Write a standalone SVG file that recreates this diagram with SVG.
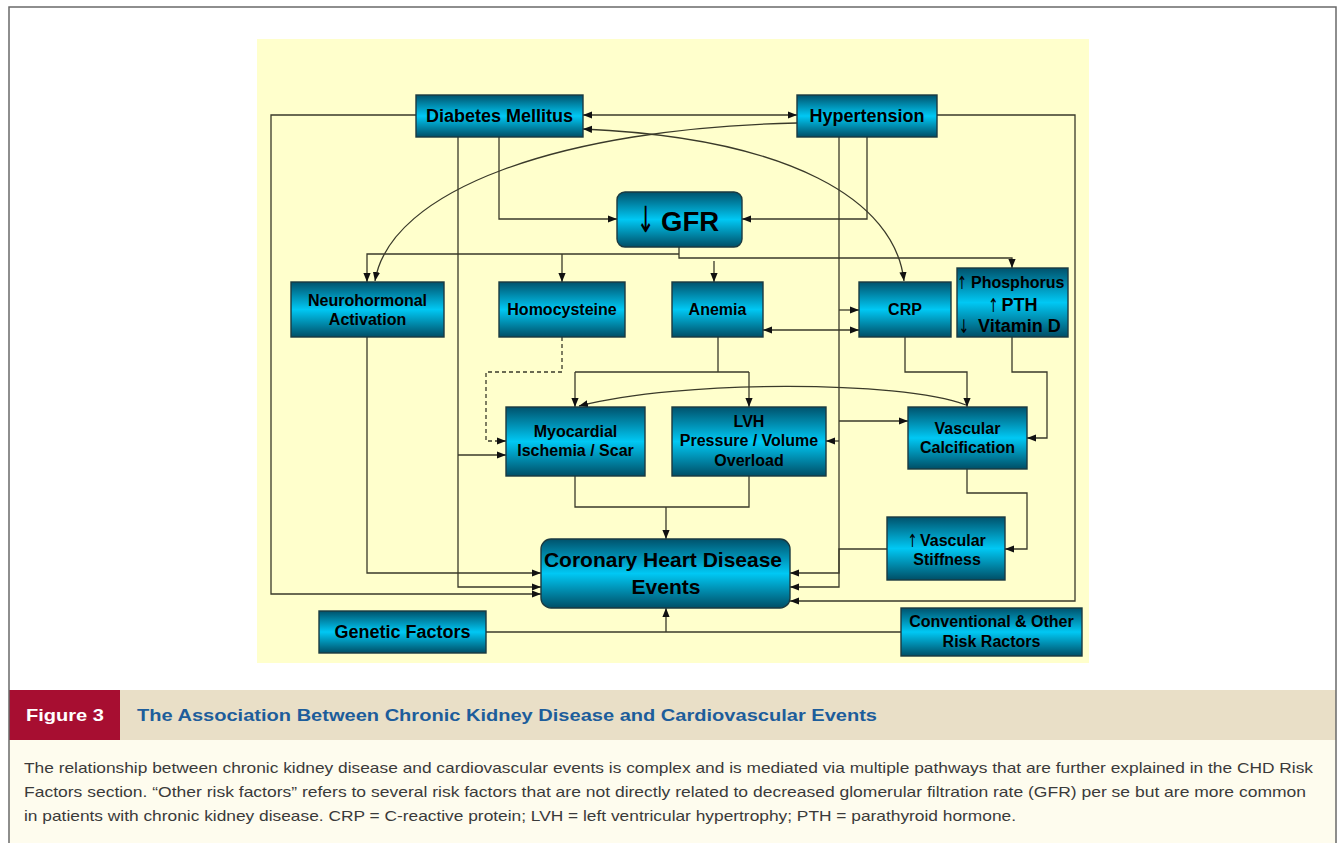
<svg xmlns="http://www.w3.org/2000/svg" width="1341" height="843" viewBox="0 0 1341 843">
<defs>
<linearGradient id="g" x1="0" y1="0" x2="0" y2="1">
<stop offset="0" stop-color="#00526c"/>
<stop offset="0.5" stop-color="#00c8f4"/>
<stop offset="1" stop-color="#004e66"/>
</linearGradient>
<marker id="a" viewBox="0 0 10 8" refX="10" refY="4" markerWidth="9" markerHeight="8" markerUnits="userSpaceOnUse" orient="auto-start-reverse">
<path d="M0,0 L10,4 L0,8 z" fill="#111"/>
</marker>
<style>
.box{fill:url(#g);stroke:#1b3a40;stroke-width:1.4}
.t{font-family:"Liberation Sans",Arial,sans-serif;font-weight:bold;fill:#000;text-anchor:middle}
.l{font-family:"Liberation Sans",Arial,sans-serif;font-weight:bold;fill:#000}
.s16{font-size:16px}
.s18{font-size:18px}
.ar{font-family:"DejaVu Sans",sans-serif;font-weight:normal;fill:#000}
.c{fill:none;stroke:#3a3a2a;stroke-width:1.3}
.e{marker-end:url(#a)}
.b{marker-start:url(#a);marker-end:url(#a)}
.cap{font-family:"Liberation Sans",Arial,sans-serif;font-size:15px;fill:#3a3a3a}
</style>
</defs>
<rect x="0" y="0" width="1341" height="843" fill="#fff"/>
<rect x="257" y="39" width="832" height="624" fill="#ffffcc"/>
<rect x="120" y="690" width="1216" height="50" fill="#e9dfc7"/>
<rect x="9" y="690" width="111" height="50" fill="#a70e31"/>
<rect x="9" y="740" width="1327" height="110" fill="#fefcee"/>
<path d="M9,850 V7 H1336 V850" fill="none" stroke="#6a6a6a" stroke-width="1.5"/>
<text x="26" y="721" font-family="Liberation Sans,Arial,sans-serif" font-weight="bold" font-size="17" fill="#fff" textLength="78" lengthAdjust="spacingAndGlyphs">Figure 3</text>
<text x="137" y="721" font-family="Liberation Sans,Arial,sans-serif" font-weight="bold" font-size="17" fill="#1d5d9b" textLength="740" lengthAdjust="spacingAndGlyphs">The Association Between Chronic Kidney Disease and Cardiovascular Events</text>
<text class="cap" x="24" y="773" textLength="1289" lengthAdjust="spacingAndGlyphs">The relationship between chronic kidney disease and cardiovascular events is complex and is mediated via multiple pathways that are further explained in the CHD Risk</text>
<text class="cap" x="24" y="797" textLength="1282" lengthAdjust="spacingAndGlyphs">Factors section. “Other risk factors” refers to several risk factors that are not directly related to decreased glomerular filtration rate (GFR) per se but are more common</text>
<text class="cap" x="24" y="821" textLength="992" lengthAdjust="spacingAndGlyphs">in patients with chronic kidney disease. CRP = C-reactive protein; LVH = left ventricular hypertrophy; PTH = parathyroid hormone.</text>

<g id="connectors">
<path class="c b" d="M583,115 H797"/>
<path class="c e" d="M416,115 H271 V594 H541"/>
<path class="c e" d="M458,137 V587 H541"/>
<path class="c e" d="M458,455 H506"/>
<path class="c e" d="M499,137 V219 H617"/>
<path class="c e" d="M867,137 V219 H742"/>
<path class="c e" d="M839,137 V587 H790"/>
<path class="c e" d="M839,310 H859"/>
<path class="c e" d="M839,421 H908"/>
<path class="c e" d="M839,441 H826"/>
<path class="c e" d="M937,115 H1075 V601 H790"/>
<path class="c e" d="M887,549 H839 V573 H790"/>
<path class="c e" d="M797,123 C560,128 390,190 375,281"/>
<path class="c b" d="M583,129 C790,138 895,200 904,281"/>
<path class="c b" d="M763,330 H859"/>
<path class="c e" d="M679,247 V258 H1012 V268"/>
<path class="c e" d="M679,254 H367 V282"/>
<path class="c e" d="M562,254 V282"/>
<path class="c e" d="M714,261 V282"/>
<path class="c e" d="M367,337 V573 H541"/>
<path class="c e" d="M562,337 V372 H486 V441 H506" stroke-dasharray="4,3"/>
<path class="c" d="M718,337 V372 M575,372 H749"/>
<path class="c e" d="M575,372 V407"/>
<path class="c e" d="M749,372 V407"/>
<path class="c e" d="M966,405 C900,380 680,380 579,406"/>
<path class="c e" d="M905,337 V372 H967 V407"/>
<path class="c e" d="M1012,337 V372 H1047 V438 H1027"/>
<path class="c e" d="M967,469 V493 H1027 V549 H1005"/>
<path class="c" d="M575,476 V507 H749 V476"/>
<path class="c e" d="M666,507 V539"/>
<path class="c" d="M486,632 H901"/>
<path class="c e" d="M666,632 V608"/>
</g>

<g id="diabetes"><rect class="box" x="416" y="95" width="167" height="42"/><text class="t s18" x="499.5" y="122">Diabetes Mellitus</text></g>
<g id="hypertension"><rect class="box" x="797" y="95" width="140" height="42"/><text class="t s18" x="867" y="122">Hypertension</text></g>
<g id="gfr"><rect class="box" x="617" y="192" width="125" height="55" rx="8"/><text class="ar" transform="translate(645.5,232) scale(0.6,1)" text-anchor="middle" font-size="36">↓</text><text class="l" x="661" y="230.5" font-size="27.5">GFR</text></g>
<g id="neurohormonal"><rect class="box" x="291" y="282" width="153" height="55"/><text class="t s16" x="367.5" y="306">Neurohormonal</text><text class="t s16" x="367.5" y="325">Activation</text></g>
<g id="homocysteine"><rect class="box" x="499" y="282" width="126" height="55"/><text class="t s16" x="562" y="315">Homocysteine</text></g>
<g id="anemia"><rect class="box" x="672" y="282" width="91" height="55"/><text class="t s16" x="717.5" y="315">Anemia</text></g>
<g id="crp"><rect class="box" x="859" y="282" width="92" height="55"/><text class="t s16" x="905" y="315">CRP</text></g>
<g id="phosphorus"><rect class="box" x="957" y="268" width="111" height="69"/>
<text class="ar" transform="translate(962,289) scale(0.65,1)" text-anchor="middle" font-size="18">↑</text><text class="l s16" x="971" y="288">Phosphorus</text>
<text class="ar" transform="translate(993.5,312) scale(0.65,1)" text-anchor="middle" font-size="19">↑</text><text class="l s18" x="1001.5" y="311">PTH</text>
<text class="ar" transform="translate(964,333) scale(0.65,1)" text-anchor="middle" font-size="19">↓</text><text class="l s18" x="978" y="332">Vitamin D</text></g>
<g id="myocardial"><rect class="box" x="506" y="407" width="139" height="69"/><text class="t s16" x="575.5" y="437">Myocardial</text><text class="t s16" x="575.5" y="456">Ischemia / Scar</text></g>
<g id="lvh"><rect class="box" x="672" y="407" width="154" height="69"/><text class="t s16" x="749" y="427">LVH</text><text class="t s16" x="749" y="446">Pressure / Volume</text><text class="t s16" x="749" y="466">Overload</text></g>
<g id="calcification"><rect class="box" x="908" y="407" width="119" height="62"/><text class="t s16" x="967.5" y="434">Vascular</text><text class="t s16" x="967.5" y="453">Calcification</text></g>
<g id="stiffness"><rect class="box" x="887" y="517" width="118" height="63"/><text class="ar" transform="translate(912.5,547) scale(0.65,1)" text-anchor="middle" font-size="18">↑</text><text class="l s16" x="920" y="546">Vascular</text><text class="t s16" x="947" y="565">Stiffness</text></g>
<g id="chd"><rect class="box" x="541" y="539" width="249" height="69" rx="10"/><text class="t" x="663" y="567" font-size="21">Coronary Heart Disease</text><text class="t" x="666" y="594" font-size="21">Events</text></g>
<g id="genetic"><rect class="box" x="319" y="611" width="167" height="42"/><text class="t s18" x="402.5" y="638">Genetic Factors</text></g>
<g id="conventional"><rect class="box" x="901" y="608" width="181" height="48"/><text class="t s16" x="991.5" y="627">Conventional &amp; Other</text><text class="t s16" x="991.5" y="647">Risk Ractors</text></g>
</svg>
